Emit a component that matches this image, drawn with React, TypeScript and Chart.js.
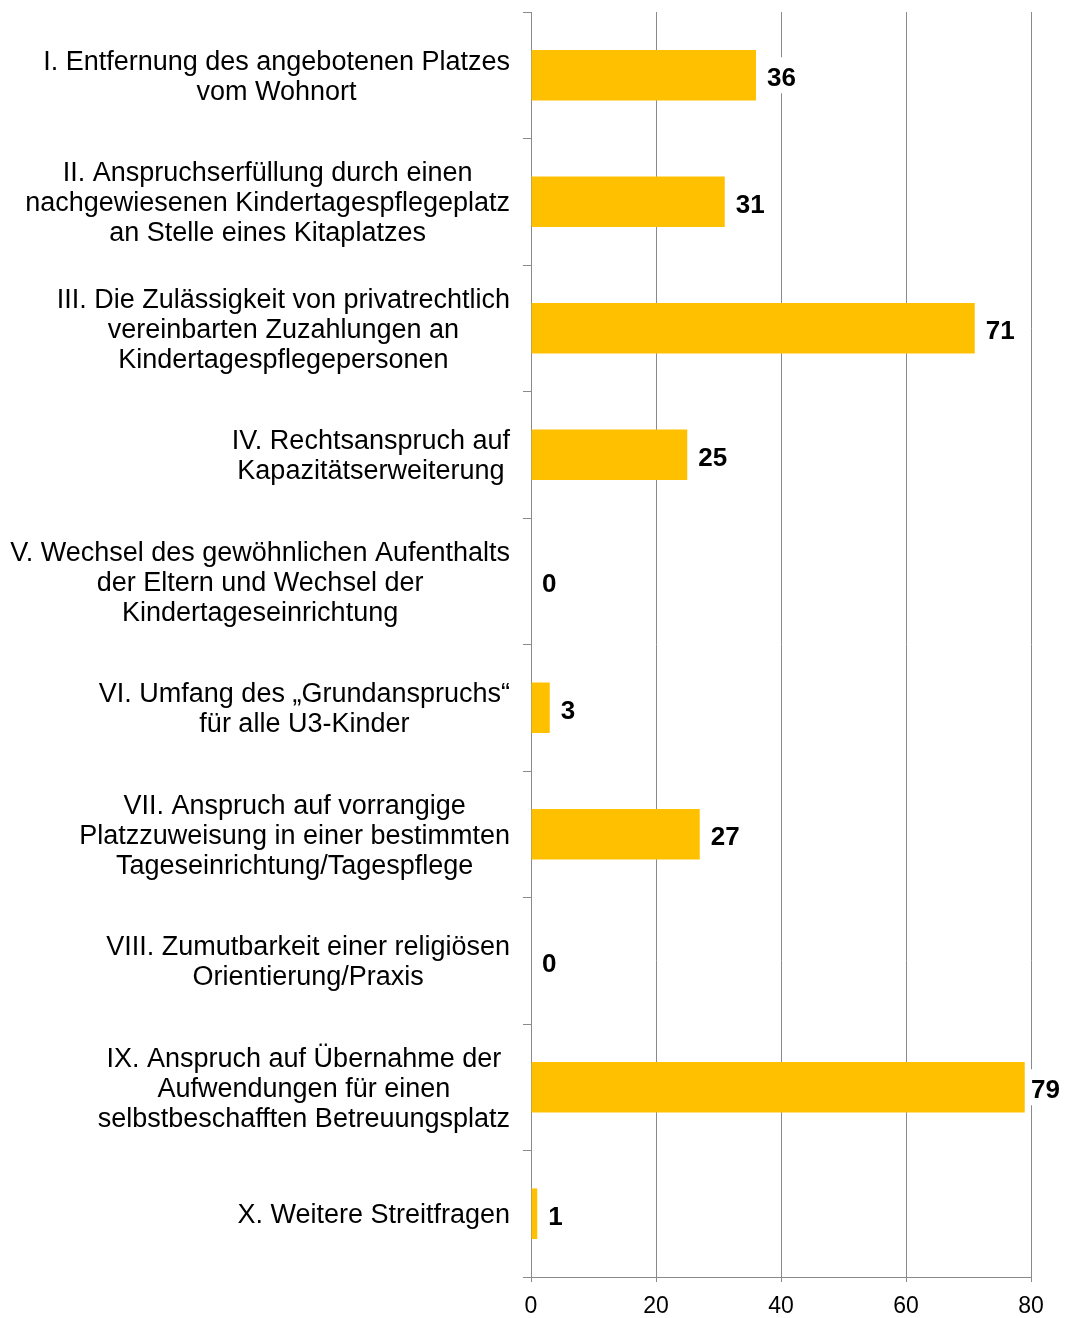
import React, { useEffect, useRef } from "react";
import { Chart, registerables } from "chart.js";

Chart.register(...registerables);

const categories: string[][] = [
  ["I. Entfernung des angebotenen Platzes", "vom Wohnort"],
  ["II. Anspruchserfüllung durch einen", "nachgewiesenen Kindertagespflegeplatz", "an Stelle eines Kitaplatzes"],
  ["III. Die Zulässigkeit von privatrechtlich", "vereinbarten Zuzahlungen an", "Kindertagespflegepersonen"],
  ["IV. Rechtsanspruch auf", "Kapazitätserweiterung"],
  ["V. Wechsel des gewöhnlichen Aufenthalts", "der Eltern und Wechsel der", "Kindertageseinrichtung"],
  ["VI. Umfang des „Grundanspruchs“", "für alle U3-Kinder"],
  ["VII. Anspruch auf vorrangige", "Platzzuweisung in einer bestimmten", "Tageseinrichtung/Tagespflege"],
  ["VIII. Zumutbarkeit einer religiösen", "Orientierung/Praxis"],
  ["IX. Anspruch auf Übernahme der", "Aufwendungen für einen", "selbstbeschafften Betreuungsplatz"],
  ["X. Weitere Streitfragen"],
];

const values: number[] = [36, 31, 71, 25, 0, 3, 27, 0, 79, 1];

const xTicks: number[] = [0, 20, 40, 60, 80];

const FONT = "'Liberation Sans', Arial, sans-serif";
const GRID = "#8a8a8a";

const labelPlugin = {
  id: "customLabels",
  afterDatasetsDraw(chart: any) {
    const ctx = chart.ctx;
    const meta = chart.getDatasetMeta(0);
    const maxRight = chart.width - 5;
    ctx.save();
    ctx.font = `bold 26px ${FONT}`;
    ctx.textBaseline = "middle";
    ctx.textAlign = "left";
    meta.data.forEach((el: any, i: number) => {
      const txt = String(values[i]);
      const w = ctx.measureText(txt).width;
      const tx = Math.min(el.x + 11, maxRight - w);
      ctx.fillStyle = "#ffffff";
      ctx.fillRect(tx - 5, el.y - 18, w + 10, 36);
      ctx.fillStyle = "#000000";
      ctx.fillText(txt, tx, el.y + 4);
    });
    ctx.restore();
  },
  afterDraw(chart: any) {
    const ctx = chart.ctx;
    const yScale = chart.scales.y;
    const right = chart.chartArea.left - 21;
    ctx.save();
    ctx.font = `27px ${FONT}`;
    ctx.fillStyle = "#000000";
    ctx.textAlign = "center";
    ctx.textBaseline = "middle";
    categories.forEach((lines, i) => {
      const cy = yScale.getPixelForValue(i) + 2;
      const maxW = Math.max(...lines.map((l) => ctx.measureText(l).width));
      const cx = right - maxW / 2;
      lines.forEach((l, j) => {
        ctx.fillText(l, cx, cy + (j - (lines.length - 1) / 2) * 30);
      });
    });
    ctx.restore();
  },
};

export default function App() {
  const ref = useRef<HTMLCanvasElement | null>(null);
  useEffect(() => {
    if (!ref.current) return;
    const chart = new Chart(ref.current, {
      type: "bar",
      data: {
        labels: categories.map((c) => c.join(" ")),
        datasets: [
          {
            data: values,
            backgroundColor: "#FFC000",
            barPercentage: 0.8,
            categoryPercentage: 0.5,
          },
        ],
      },
      options: {
        indexAxis: "y",
        animation: false,
        responsive: false,
        devicePixelRatio: 1,
        layout: { padding: { left: 0, top: 12, right: 34, bottom: 0 } },
        plugins: { legend: { display: false }, tooltip: { enabled: false } },
        scales: {
          x: {
            min: 0,
            max: 80,
            afterBuildTicks: (s: any) => {
              s.ticks = xTicks.map((v) => ({ value: v }));
            },
            afterFit: (s: any) => {
              s.height = 41;
            },
            grid: { color: GRID, lineWidth: 1, drawTicks: true, tickLength: 5, tickColor: GRID },
            border: { color: GRID, width: 1 },
            ticks: { font: { family: FONT, size: 23 }, color: "#000", padding: 11 },
          },
          y: {
            afterFit: (s: any) => {
              s.width = 531;
            },
            grid: { drawOnChartArea: false, drawTicks: true, tickLength: 8, color: GRID, tickColor: GRID, offset: true },
            border: { color: GRID, width: 1 },
            ticks: { display: false },
          },
        },
      },
      plugins: [labelPlugin],
    } as any);
    return () => chart.destroy();
  }, []);
  return (
    <div style={{ position: "fixed", left: 0, top: 0, width: 1065, height: 1318, background: "#fff" }}>
      <canvas ref={ref} width={1065} height={1318} style={{ width: 1065, height: 1318, display: "block" }} />
    </div>
  );
}
